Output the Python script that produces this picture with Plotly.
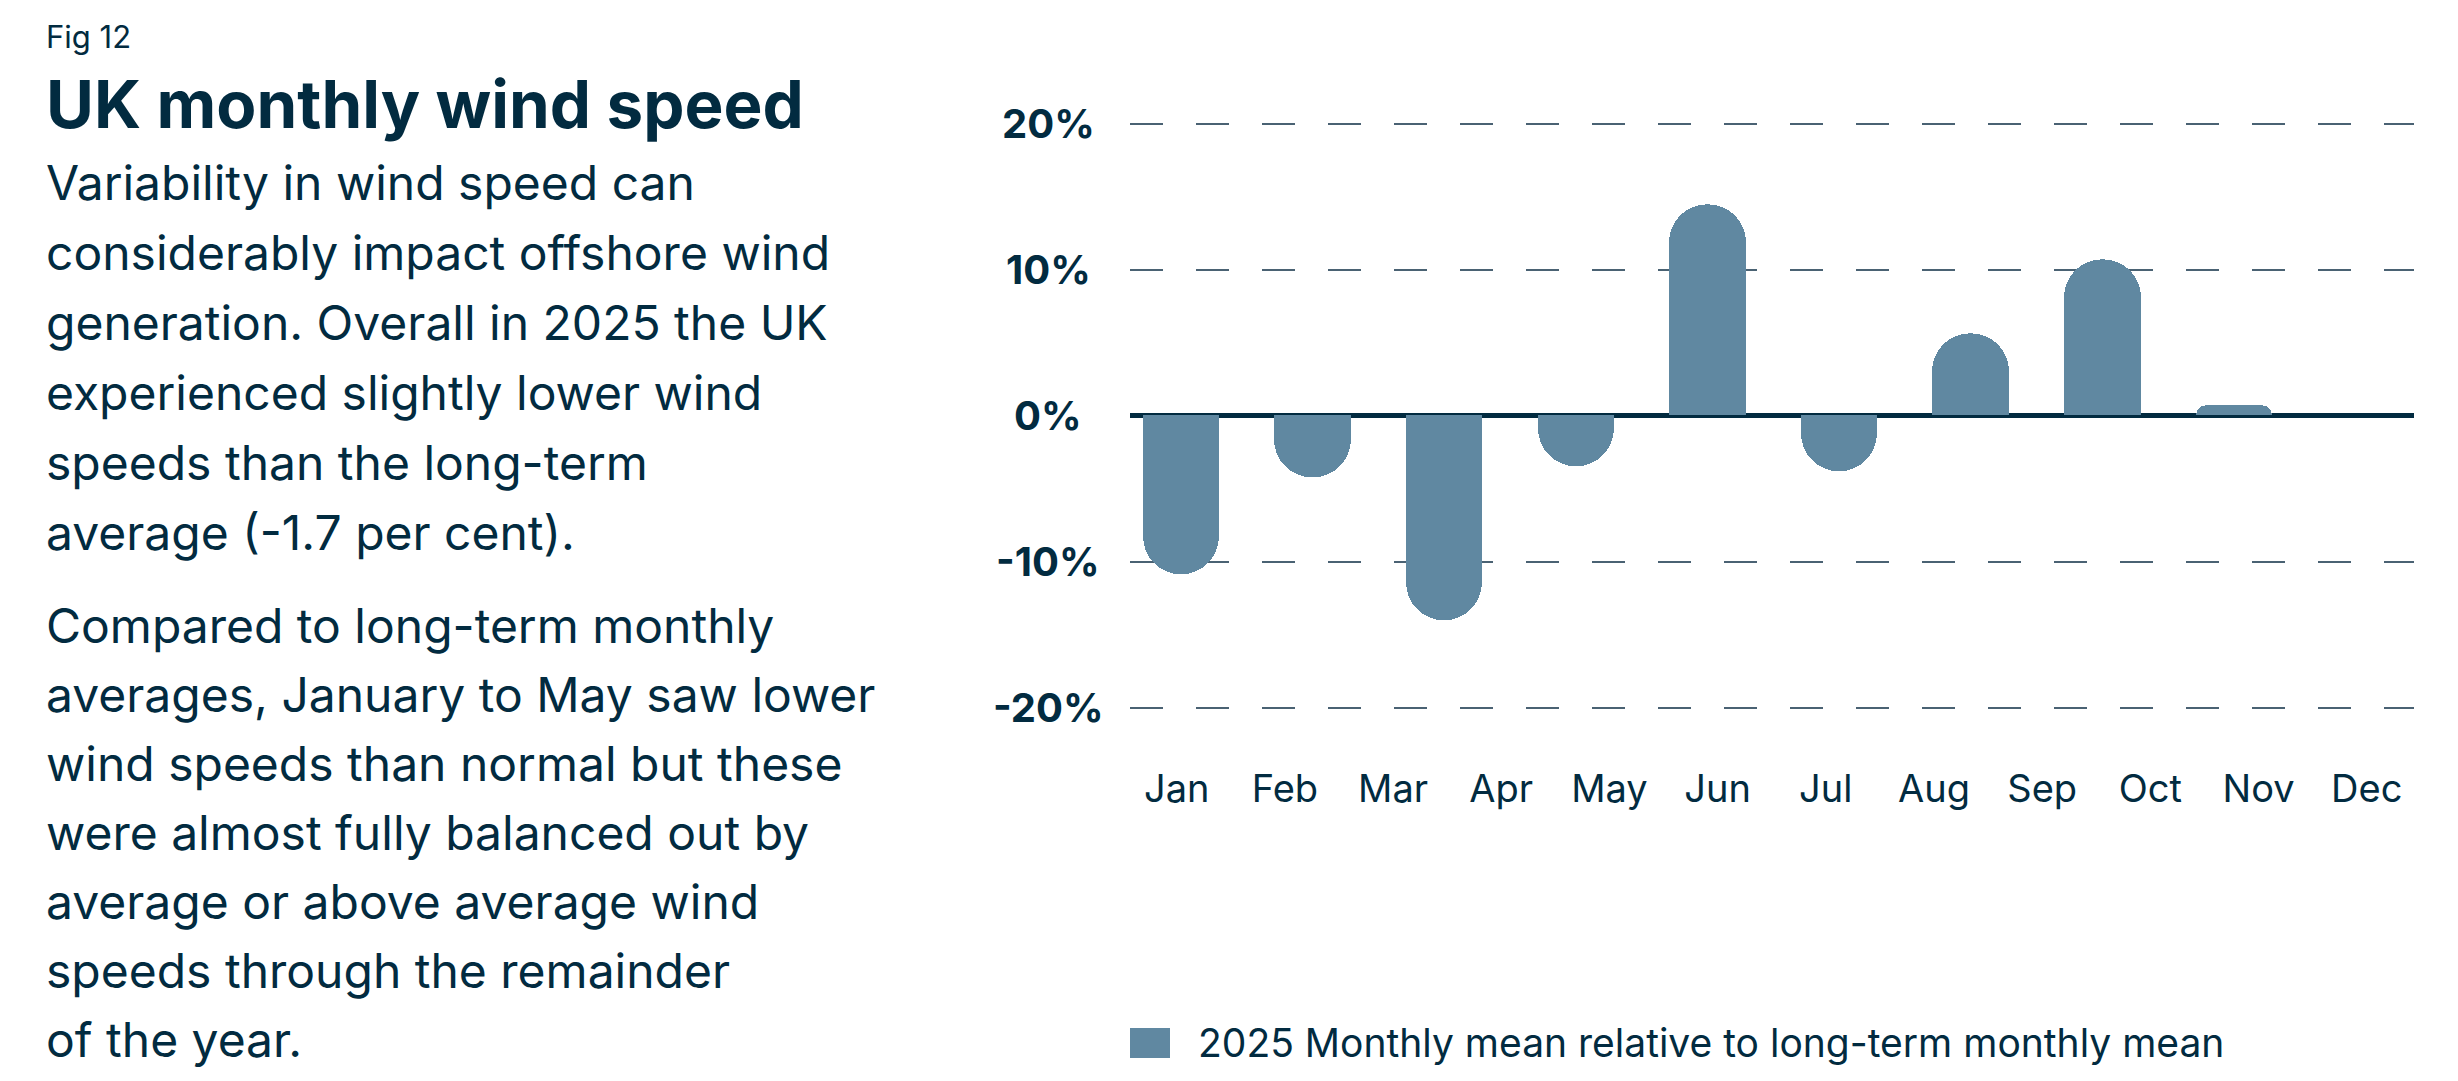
import plotly.graph_objects as go

# ---------------- data ----------------
months = ["Jan", "Feb", "Mar", "Apr", "May", "Jun", "Jul", "Aug", "Sep", "Oct", "Nov", "Dec"]
bar_index = [0, 1, 2, 3, 4, 5, 6, 7, 8]
bar_values = [-10.9, -4.2, -14.0, -3.5, 14.5, -3.8, 5.6, 10.7, 0.7]
y_ticks = [-20, -10, 0, 10, 20]
y_tick_labels = ["-20%", "-10%", "0%", "10%", "20%"]
legend_label = "2025 Monthly mean relative to long-term monthly mean"

fig_label = "Fig 12"
title_text = "UK monthly wind speed"
para1 = [
    "Variability in wind speed can",
    "considerably impact offshore wind",
    "generation. Overall in 2025 the UK",
    "experienced slightly lower wind",
    "speeds than the long-term",
    "average (-1.7 per cent).",
]
para2 = [
    "Compared to long-term monthly",
    "averages, January to May saw lower",
    "wind speeds than normal but these",
    "were almost fully balanced out by",
    "average or above average wind",
    "speeds through the remainder",
    "of the year.",
]

# ---------------- style ----------------
W, H = 2458, 1081
NAVY = "#022B40"
BAR = "#6088A1"
GRID = "#4A6273"
FONT = "Inter, Roboto, sans-serif"


def px(x):
    return x / W


def py(y):
    return 1 - y / H


plot_left, plot_right = 1130, 2414
plot_top, plot_bottom = 94.3, 736.7

fig = go.Figure()

fig.add_trace(go.Bar(
    x=bar_index, y=bar_values, xaxis="x2", yaxis="y",
    width=0.581,
    marker=dict(color=BAR, line=dict(width=0), cornerradius="50%"),
    showlegend=False, hoverinfo="skip",
))
# carrier trace for the month axis
fig.add_trace(go.Scatter(
    x=list(range(len(months))), y=[None] * len(months),
    xaxis="x", yaxis="y", mode="markers", marker=dict(opacity=0),
    showlegend=False, hoverinfo="skip",
))

annotations = []
shapes = []

# y tick labels (centred, bold)
for v, t in zip(y_ticks, y_tick_labels):
    annotations.append(dict(
        x=px(1048), xref="paper", y=v, yref="y", text=t, showarrow=False,
        xanchor="center", yanchor="middle",
        font=dict(family=FONT, size=40, color=NAVY, weight=700),
    ))

# left text block
left_x = px(45)


def add_line(text, baseline, size, weight=400):
    annotations.append(dict(
        x=left_x, xref="paper", y=py(baseline - 0.36 * size), yref="paper",
        text=text, showarrow=False, xanchor="left", yanchor="middle", borderpad=0,
        font=dict(family=FONT, size=size, color=NAVY, weight=weight),
    ))


add_line(fig_label, 48, 31)
add_line(title_text, 128, 65.5, 700)
for i, line in enumerate(para1):
    add_line(line, 200 + 70 * i, 48)
for i, line in enumerate(para2):
    add_line(line, 643 + 69 * i, 48)

# legend
shapes.append(dict(type="rect", xref="paper", yref="paper",
                   x0=px(1130), x1=px(1170), y0=py(1058), y1=py(1028),
                   fillcolor=BAR, line=dict(width=0)))
annotations.append(dict(
    x=px(1197), xref="paper", y=py(1042), yref="paper", text=legend_label,
    showarrow=False, xanchor="left", yanchor="middle", borderpad=0,
    font=dict(family=FONT, size=39, color=NAVY),
))

fig.update_layout(
    width=W, height=H, autosize=False,
    margin=dict(l=0, r=0, t=0, b=0),
    paper_bgcolor="white", plot_bgcolor="white",
    font=dict(family=FONT, color=NAVY),
    showlegend=False,
    bargap=0,
    xaxis=dict(
        domain=[px(plot_left), px(plot_right)],
        range=[-0.4316, 11.437],
        tickmode="array", tickvals=list(range(len(months))), ticktext=months,
        showgrid=False, zeroline=False, showline=False, ticks="",
        tickfont=dict(family=FONT, size=38, color=NAVY),
        ticklabelstandoff=26, fixedrange=True,
    ),
    xaxis2=dict(
        overlaying="x", anchor="y",
        range=[-0.3875, 9.368],
        visible=False, showgrid=False, zeroline=False, fixedrange=True,
    ),
    yaxis=dict(
        domain=[py(plot_bottom), py(plot_top)],
        range=[-22, 22],
        tickmode="array", tickvals=y_ticks,
        showticklabels=False, ticks="",
        showgrid=True, gridcolor=GRID, gridwidth=2, griddash="33px,33px",
        zeroline=True, zerolinecolor=NAVY, zerolinewidth=4.5,
        showline=False, fixedrange=True,
    ),
    annotations=annotations,
    shapes=shapes,
)

fig.write_html("out.html")
